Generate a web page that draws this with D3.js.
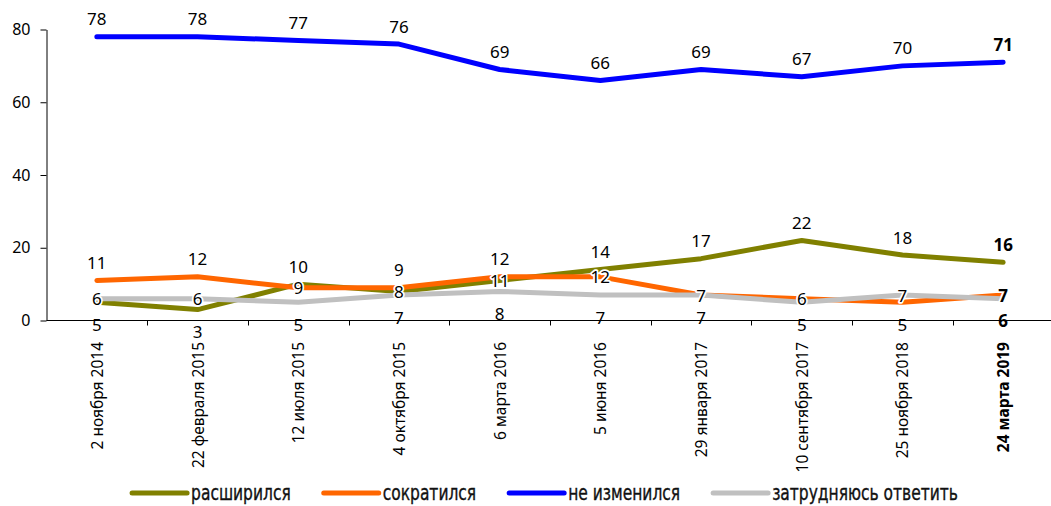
<!DOCTYPE html>
<html>
<head>
<meta charset="utf-8">
<script src="https://cdn.jsdelivr.net/npm/d3@7"></script>
<style>
  html, body { margin: 0; padding: 0; background: #fff; }
  svg { display: block; }
  .num { font-family: "Noto Sans", "DejaVu Sans", sans-serif; fill: #000; }
</style>
</head>
<body>
<svg id="chart" width="1051" height="506"></svg>
<script>
const categories = ["2 ноября 2014", "22 февраля 2015", "12 июля 2015", "4 октября 2015", "6 марта 2016",
  "5 июня 2016", "29 января 2017", "10 сентября 2017", "25 ноября 2018", "24 марта 2019"];
const expanded   = [5, 3, 10, 8, 11, 14, 17, 22, 18, 16];
const reduced    = [11, 12, 9, 9, 12, 12, 7, 6, 5, 7];
const unchanged  = [78, 78, 77, 76, 69, 66, 69, 67, 70, 71];
const hardToSay  = [6, 6, 5, 7, 8, 7, 7, 5, 7, 6];
const seriesNames = ["расширился", "сократился", "не изменился", "затрудняюсь ответить"];
const seriesColors = ["#808000", "#ff6600", "#0000ff", "#c0c0c0"];
const yTicks = [0, 20, 40, 60, 80];

const series = [expanded, reduced, unchanged, hardToSay].map((values, i) => ({
  name: seriesNames[i], color: seriesColors[i], values
}));

const svg = d3.select("#chart");
const x = d3.scaleBand().domain(categories).range([46.5, 1053.5]);
const y = d3.scaleLinear().domain([0, 80]).range([320.5, 29.5]);
const cx = c => x(c) + x.bandwidth() / 2;
const last = categories[categories.length - 1];

// Y axis
const yAxis = svg.append("g").attr("transform", "translate(46.5,0)")
  .call(d3.axisLeft(y).tickValues(yTicks).tickSize(6).tickPadding(10).tickSizeOuter(0));
yAxis.select(".domain").attr("stroke", "#000");
yAxis.selectAll(".tick line").attr("stroke", "#000");
yAxis.selectAll("text").attr("class", "num").attr("font-size", 16).attr("fill", "#000");

// X axis line with ticks at band boundaries
const xg = svg.append("g");
xg.append("line").attr("x1", 46.5).attr("x2", 1051).attr("y1", y(0)).attr("y2", y(0)).attr("stroke", "#000");
xg.selectAll("line.tk").data(categories.slice(1)).join("line").attr("class", "tk")
  .attr("x1", d => Math.round(x(d)) + 0.5).attr("x2", d => Math.round(x(d)) + 0.5)
  .attr("y1", y(0)).attr("y2", y(0) + 5).attr("stroke", "#000");
xg.selectAll("text").data(categories).join("text")
  .attr("class", "num")
  .attr("font-size", 15.5)
  .attr("font-weight", d => d === last ? "bold" : "normal")
  .attr("text-anchor", "end")
  .attr("dominant-baseline", "central")
  .attr("transform", d => `translate(${cx(d)},342) rotate(-90)`)
  .text(d => d);

// Lines
const line = d3.line().x((d, i) => cx(categories[i])).y(d => y(d));
svg.append("g").selectAll("path").data(series).join("path")
  .attr("d", s => line(s.values))
  .attr("fill", "none")
  .attr("stroke", s => s.color)
  .attr("stroke-width", 5)
  .attr("stroke-linecap", "round")
  .attr("stroke-linejoin", "round");

// Labels
const labels = [];
categories.forEach((c, i) => {
  labels.push({ c, v: unchanged[i], pos: "above" });
  const low = [expanded, reduced, hardToSay].map(arr => arr[i]);
  const order = [0, 1, 2].sort((a, b) => low[b] - low[a] || a - b);
  ["above", "middle", "below"].forEach((pos, r) => labels.push({ c, v: low[order[r]], pos }));
});
const off = { above: -18, middle: 0, below: 22 };
const lg = svg.append("g");
lg.selectAll("text").data(labels).join("text")
  .attr("class", "num")
  .attr("font-size", 17)
  .attr("font-weight", d => d.c === last ? "bold" : "normal")
  .attr("text-anchor", "middle")
  .attr("dominant-baseline", "central")
  .attr("x", d => cx(d.c))
  .attr("y", d => y(d.v) + off[d.pos])
  .attr("stroke", d => d.pos === "middle" ? "#fff" : "none")
  .attr("stroke-width", 3.5)
  .attr("stroke-linejoin", "round")
  .attr("paint-order", "stroke")
  .text(d => d.v);

// Legend
const leg = svg.append("g");
const items = leg.selectAll("g").data(series).join("g");
items.append("line").attr("x1", 0).attr("x2", 55).attr("y1", 0).attr("y2", 0)
  .attr("stroke", d => d.color).attr("stroke-width", 5).attr("stroke-linecap", "round");
const sx = 0.82;
items.append("text")
  .attr("transform", `translate(59,0) scale(${sx},1)`)
  .attr("dominant-baseline", "central")
  .attr("font-family", "'Liberation Sans Narrow', 'DejaVu Sans Condensed', sans-serif")
  .attr("font-size", 21)
  .attr("fill", "#111")
  .attr("stroke", "#111")
  .attr("stroke-width", 0.35)
  .text(d => d.name);
const widths = items.nodes().map(n => 59 + sx * n.querySelector("text").getComputedTextLength());
const gap = 33;
const total = d3.sum(widths) + gap * (widths.length - 1);
let start = 545 - total / 2;
items.attr("transform", (d, i) => {
  const t = `translate(${start},493)`;
  start += widths[i] + gap;
  return t;
});
</script>
</body>
</html>
